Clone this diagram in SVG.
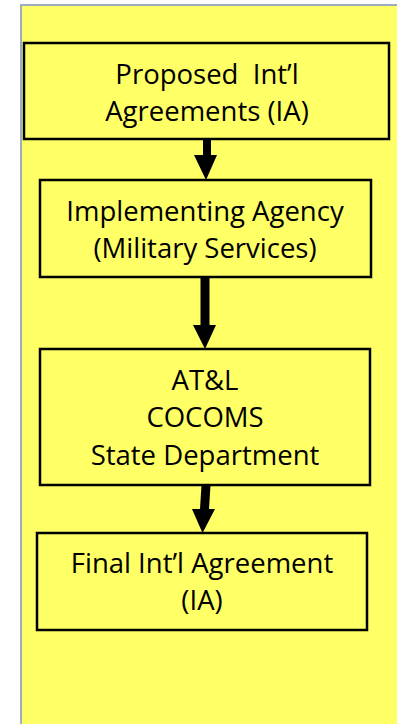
<svg xmlns="http://www.w3.org/2000/svg" width="397" height="724" viewBox="0 0 397 724">
<style>
.bg{fill:#ffff66;stroke:#9eaebf;stroke-width:2}
.box{fill:#ffff66;stroke:#000;stroke-width:2.5}
.t{font-family:"Open Sans","Liberation Sans",sans-serif;font-size:27.5px;fill:#000;text-anchor:middle;white-space:pre}
.arr{fill:#000}
</style>
<rect width="397" height="724" fill="#fff"/>
<rect class="bg" x="21" y="5" width="400" height="740"/>
<g id="node1">
<rect class="box" x="24" y="43" width="365" height="96"/>
<text class="t" x="207" y="84" xml:space="preserve">Proposed  Int’l</text>
<text class="t" x="207" y="121">Agreements (IA)</text>
</g>
<g id="node2">
<rect class="box" x="40" y="180" width="331" height="97"/>
<text class="t" x="205" y="221">Implementing Agency</text>
<text class="t" x="205" y="258">(Military Services)</text>
</g>
<g id="node3">
<rect class="box" x="40" y="349" width="330" height="136"/>
<text class="t" x="205" y="390">AT&amp;L</text>
<text class="t" x="205" y="427">COCOMS</text>
<text class="t" x="205" y="465">State Department</text>
</g>
<g id="node4">
<rect class="box" x="37" y="533" width="330" height="97"/>
<text class="t" x="202" y="573">Final Int’l Agreement</text>
<text class="t" x="202" y="610">(IA)</text>
</g>
<g id="connectors">
<polygon class="arr" points="203,139 211,139 211,155 217,155 206,180 194,155 203,155"/>
<polygon class="arr" points="200.5,277 209.5,277 209.5,325 216,325 205,349 193,325 200.5,325"/>
<polygon class="arr" points="201.5,485 210.5,485 209,509 215,509 202.5,533 192,509 200,509"/>
</g>
</svg>
